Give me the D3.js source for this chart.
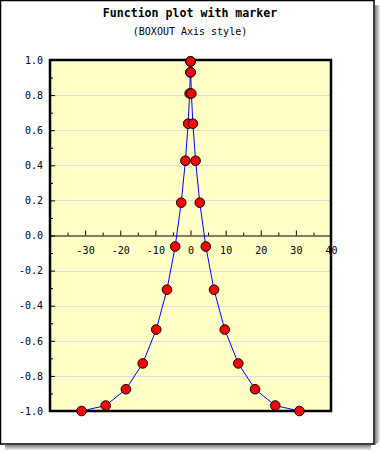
<!DOCTYPE html>
<html>
<head>
<meta charset="utf-8">
<script src="https://cdn.jsdelivr.net/npm/d3@7"></script>
<style>
  html, body { margin: 0; padding: 0; background: #fff; }
  svg { display: block; }
</style>
</head>
<body>
<svg id="chart" width="380" height="450"></svg>
<script>
// ---- data (x = t^3, y = cos t) ----
const xValues = [-31.01, -24.14, -18.38, -13.61, -9.75, -6.70, -4.36, -2.64, -1.45, -0.68, -0.25, -0.05, -0.002,
                  0.002, 0.05, 0.25, 0.68, 1.45, 2.64, 4.36, 6.70, 9.75, 13.61, 18.38, 24.14, 31.01];
const yValues = [-1.00, -0.969, -0.876, -0.729, -0.536, -0.309, -0.063, 0.187, 0.426, 0.637, 0.809, 0.930, 0.992,
                  0.992, 0.930, 0.809, 0.637, 0.426, 0.187, -0.063, -0.309, -0.536, -0.729, -0.876, -0.969, -1.00];
const xTicks = [-40, -30, -20, -10, 0, 10, 20, 30, 40];
const xMinorTicks = [-35, -25, -15, -5, 5, 15, 25, 35];
const yTicks = [-1.0, -0.8, -0.6, -0.4, -0.2, 0.0, 0.2, 0.4, 0.6, 0.8, 1.0];
const yMinorTicks = [-0.9, -0.7, -0.5, -0.3, -0.1, 0.1, 0.3, 0.5, 0.7, 0.9];
const titleText = "Function plot with marker";
const subtitleText = "(BOXOUT Axis style)";

const svg = d3.select("#chart");
const W = 380, H = 450;
const plot = {left: 50, top: 60, right: 331, bottom: 411};

// ---- frame with shadow ----
const shadowGrays = ["#8a8a8a", "#a0a0a0", "#b8b8b8", "#cfcfcf", "#e4e4e4"];
shadowGrays.forEach((c, i) => {
  svg.append("rect").attr("x", 375 + i).attr("y", 5).attr("width", 1).attr("height", 445 - 5 - i).attr("fill", c);
  svg.append("rect").attr("x", 5).attr("y", 445 + i).attr("width", 371 - 5 + i * 0).attr("height", 1).attr("fill", c);
});
svg.append("rect").attr("x", 0.5).attr("y", 0.5).attr("width", 373.5).attr("height", 443.5)
  .attr("fill", "#fff").attr("stroke", "#000").attr("stroke-width", 1.5);

// ---- scales ----
const x = d3.scaleLinear().domain([-40, 40]).range([plot.left, plot.right]);
const y = d3.scaleLinear().domain([-1, 1]).range([plot.bottom, plot.top]);

// plot background
svg.append("rect").attr("x", plot.left).attr("y", plot.top)
  .attr("width", plot.right - plot.left).attr("height", plot.bottom - plot.top)
  .attr("fill", "#ffffc6");

// grid
svg.append("g").selectAll("line").data(yTicks.filter(v => v > -1 && v < 1 && v !== 0)).join("line")
  .attr("x1", plot.left).attr("x2", plot.right)
  .attr("y1", d => Math.round(y(d)) + 0.5).attr("y2", d => Math.round(y(d)) + 0.5)
  .attr("stroke", "#dcdcdc").attr("stroke-width", 1);

const font = "'DejaVu Sans Mono', monospace";

// ---- y axis ----
const yAxis = d3.axisLeft(y).tickValues(yTicks).tickFormat(d3.format(".1f"))
  .tickSizeInner(-5).tickSizeOuter(0).tickPadding(7);
const gy = svg.append("g").attr("transform", `translate(${plot.left},0)`).call(yAxis);
gy.select(".domain").remove();
gy.selectAll("text").attr("font-family", font).attr("font-size", 10).attr("fill", "#000")
  .text(d => d3.format(".1f")(d).replace("−", "-"));
const gyMinor = svg.append("g").attr("transform", `translate(${plot.left},0)`)
  .call(d3.axisLeft(y).tickValues(yMinorTicks).tickFormat("").tickSizeInner(-3).tickSizeOuter(0));
gyMinor.select(".domain").remove();

// ---- x axis at y = 0 ----
const xAxis = d3.axisBottom(x).tickValues(xTicks).tickFormat(d => d)
  .tickSizeInner(-5).tickSizeOuter(0).tickPadding(11);
const gx = svg.append("g").attr("transform", `translate(0,${y(0)})`).call(xAxis);
gx.select(".domain").attr("stroke-width", 1.2);
gx.selectAll(".tick").filter(d => d === -40).select("text").remove();
gx.selectAll("text").attr("font-family", font).attr("font-size", 10).attr("fill", "#000")
  .text(d => String(d).replace("−", "-"));
const gxMinor = svg.append("g").attr("transform", `translate(0,${y(0)})`)
  .call(d3.axisBottom(x).tickValues(xMinorTicks).tickFormat("").tickSizeInner(-3).tickSizeOuter(0));
gxMinor.select(".domain").remove();

// ---- plot box ----
svg.append("rect").attr("x", plot.left).attr("y", plot.top)
  .attr("width", plot.right - plot.left).attr("height", plot.bottom - plot.top)
  .attr("fill", "none").attr("stroke", "#000").attr("stroke-width", 2.5);

// ---- line + markers ----
const pts = xValues.map((v, i) => [v, yValues[i]]);
svg.append("path").datum(pts)
  .attr("d", d3.line().x(d => x(d[0])).y(d => y(d[1])))
  .attr("fill", "none").attr("stroke", "#0000ff").attr("stroke-width", 1);
svg.append("g").selectAll("circle").data(pts).join("circle")
  .attr("cx", d => x(d[0])).attr("cy", d => y(d[1])).attr("r", 4.8)
  .attr("fill", "#ff0000").attr("stroke", "#000").attr("stroke-width", 1);

// ---- titles ----
svg.append("text").attr("x", 190).attr("y", 17).attr("text-anchor", "middle")
  .attr("font-family", font).attr("font-weight", "bold").attr("font-size", 11.6)
  .text(titleText);
svg.append("text").attr("x", 190).attr("y", 35).attr("text-anchor", "middle")
  .attr("font-family", font).attr("font-size", 10)
  .text(subtitleText);
</script>
</body>
</html>
